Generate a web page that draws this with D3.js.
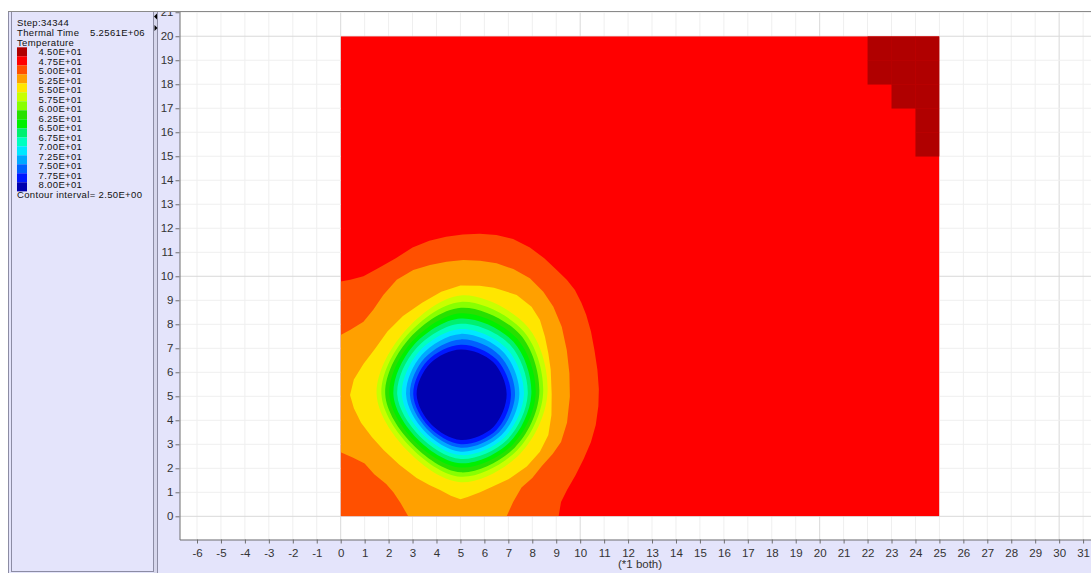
<!DOCTYPE html>
<html><head><meta charset="utf-8">
<script src="https://cdn.jsdelivr.net/npm/d3@7"></script>
<style>
body{margin:0;background:#fff;}
svg{display:block;font-family:"Liberation Sans",Arial,sans-serif;}
</style>
</head><body>
<svg id="c" width="1091" height="573"></svg>
<script>
// ---------- data ----------
const stepText = "Step:34344";
const timeLabel = "Thermal Time";
const timeValue = "5.2561E+06";
const varName = "Temperature";
const contourLevels = [45, 47.5, 50, 52.5, 55, 57.5, 60, 62.5, 65, 67.5, 70, 72.5, 75, 77.5, 80];
const levelLabels = ["4.50E+01","4.75E+01","5.00E+01","5.25E+01","5.50E+01","5.75E+01","6.00E+01","6.25E+01","6.50E+01","6.75E+01","7.00E+01","7.25E+01","7.50E+01","7.75E+01","8.00E+01"];
const bandColors = ["#b00000","#ff0000","#ff5000","#ffa000","#ffe600","#c8ff00","#88ff00","#28e000","#00f000","#00f070","#00ffc0","#00e8ff","#00a8ff","#0060ff","#0018ff","#0000b0"];
const intervalText = "Contour interval=  2.50E+00";
const axisNote = "(*1 both)";

const xTickValues = [-6,-5,-4,-3,-2,-1,0,1,2,3,4,5,6,7,8,9,10,11,12,13,14,15,16,17,18,19,20,21,22,23,24,25,26,27,28,29,30,31];
const yTickValues = [0,1,2,3,4,5,6,7,8,9,10,11,12,13,14,15,16,17,18,19,20,21];
const xDomain = [-6.71, 31.33];
const yDomain = [-0.975, 21.01];
const fieldExtent = [[0, 0], [25, 20]];

// region with T >= 47.5 (orange-red and above)
const band475 = [[0,9.78],[0.4,9.85],[0.95,10.0],[1.6,10.35],[2.3,10.75],[3.0,11.2],[3.7,11.48],[4.4,11.65],[5.1,11.74],[5.8,11.77],[6.5,11.72],[7.2,11.55],[7.9,11.2],[8.5,10.75],[9.02,10.26],[9.44,9.85],[9.78,9.43],[10.05,8.9],[10.25,8.4],[10.45,7.7],[10.6,6.9],[10.72,6.1],[10.78,5.3],[10.76,4.6],[10.65,3.8],[10.45,3.1],[10.15,2.4],[9.8,1.7],[9.45,1.1],[9.2,0.6],[9.1,0],[0,0]];
// region with T >= 50
const band50 = [[0,7.55],[0.39,7.76],[0.95,8.11],[1.36,8.6],[1.78,9.22],[2.34,9.85],[3.03,10.26],[3.73,10.47],[4.42,10.61],[5.12,10.68],[5.82,10.65],[6.51,10.54],[7.21,10.3],[7.9,9.92],[8.46,9.36],[8.88,8.73],[9.23,7.9],[9.44,6.93],[9.55,5.96],[9.57,4.99],[9.45,3.9],[9.2,3.1],[8.85,2.6],[8.4,2.1],[8.0,1.6],[7.55,1.2],[7.2,0.6],[6.93,0],[2.82,0],[2.5,0.55],[2.2,1.0],[1.9,1.35],[1.4,1.75],[1.0,2.2],[0.5,2.45],[0,2.67]];
// region with T >= 52.5
const band525 = [[5.0,9.62],[5.8,9.6],[6.4,9.52],[7.35,9.22],[7.97,8.73],[8.32,8.18],[8.53,7.48],[8.67,6.79],[8.77,6.1],[8.81,5.08],[8.8,4.22],[8.67,3.39],[8.32,2.69],[7.77,2.07],[7.07,1.58],[6.37,1.25],[5.82,1.0],[5.3,0.8],[5.0,0.71],[4.6,0.86],[4.15,1.1],[3.7,1.3],[3.17,1.6],[2.45,2.15],[1.8,2.75],[1.3,3.3],[0.85,3.9],[0.55,4.5],[0.39,5.05],[0.55,5.7],[0.95,6.35],[1.45,7.0],[1.95,7.7],[2.6,8.35],[3.4,8.9],[4.2,9.35]];

// inner closed isotherms: radius (grid units) from the hot spot centre, at E, NE, N, NW, W, SW, S, SE
const ringCenter = [5.02, 5.08];
const ringAngles = [0, 45, 90, 135, 180, 225, 270, 315];
const ringLevels = [55, 57.5, 60, 62.5, 65, 67.5, 70, 72.5, 75, 77.5, 80];
const ringRadii = [
  [3.61, 3.96, 4.12, 3.50, 3.52, 3.24, 3.66, 3.50],
  [3.43, 3.71, 3.85, 3.32, 3.32, 3.04, 3.43, 3.31],
  [3.27, 3.51, 3.61, 3.16, 3.16, 2.90, 3.25, 3.16],
  [3.12, 3.30, 3.38, 2.99, 2.99, 2.75, 3.05, 3.01],
  [2.94, 3.10, 3.16, 2.84, 2.82, 2.60, 2.87, 2.85],
  [2.79, 2.91, 2.94, 2.67, 2.66, 2.45, 2.69, 2.70],
  [2.63, 2.70, 2.72, 2.49, 2.47, 2.30, 2.53, 2.55],
  [2.44, 2.50, 2.52, 2.32, 2.29, 2.16, 2.39, 2.40],
  [2.26, 2.29, 2.29, 2.14, 2.13, 2.02, 2.22, 2.24],
  [2.09, 2.08, 2.07, 1.98, 1.99, 1.90, 2.08, 2.10],
  [1.91, 1.90, 1.87, 1.82, 1.85, 1.76, 1.90, 1.92]
];
// cells below 45 (lower-left corner of each unit cell)
const coldCells = [[22,19],[23,19],[24,19],[22,18],[23,18],[24,18],[23,17],[24,17],[24,16],[24,15]];

// ---------- drawing ----------
const W = 1091, H = 573;
const lav = "#e4e4fb", frame = "#8c8ca4";
const svg = d3.select("#c");
const defs = svg.append("defs");

const x = d3.scaleLinear().domain(xDomain).range([180, 1091]);
const y = d3.scaleLinear().domain(yDomain).range([539.7, 12]);

// background panels
svg.append("rect").attr("x", 8).attr("y", 11.5).attr("width", W - 8).attr("height", H - 11.5).attr("fill", lav);
svg.append("rect").attr("x", 180).attr("y", 12).attr("width", W - 180).attr("height", 527.7).attr("fill", "#fff");
svg.append("rect").attr("x", 153.5).attr("y", 11.5).attr("width", 4).attr("height", H - 11.5).attr("fill", "#d6d6ec");
svg.append("line").attr("x1", 8.5).attr("x2", 8.5).attr("y1", 11.5).attr("y2", H).attr("stroke", frame);
svg.append("rect").attr("x", 11.5).attr("y", 11.5).attr("width", 142).attr("height", 560).attr("fill", "none").attr("stroke", frame);
svg.append("line").attr("x1", 157.5).attr("x2", 157.5).attr("y1", 11.5).attr("y2", H).attr("stroke", frame);
svg.append("line").attr("x1", 8).attr("x2", W).attr("y1", 11.5).attr("y2", 11.5).attr("stroke", "#8a8a8a");
// small arrows
svg.append("path").attr("d", "M157,13.5 L154,16.5 L157,19.5 Z").attr("fill", "#000");
svg.append("path").attr("d", "M154.5,25 L157.5,28 L154.5,31 Z").attr("fill", "#000");

// grid
const plotClip = defs.append("clipPath").attr("id", "plotClip");
plotClip.append("rect").attr("x", 180).attr("y", 12).attr("width", W - 180).attr("height", 527.7);
const grid = svg.append("g").attr("clip-path", "url(#plotClip)");
xTickValues.forEach(v => {
  grid.append("line").attr("x1", x(v)).attr("x2", x(v)).attr("y1", 12).attr("y2", 539.7)
    .attr("stroke", v % 10 === 0 ? "#d9d9d9" : "#efefef").attr("stroke-width", 1);
});
yTickValues.forEach(v => {
  grid.append("line").attr("x1", 180).attr("x2", W).attr("y1", y(v)).attr("y2", y(v))
    .attr("stroke", v % 10 === 0 ? "#d9d9d9" : "#efefef").attr("stroke-width", 1);
});

// field
const fClip = defs.append("clipPath").attr("id", "fieldClip");
fClip.append("rect")
  .attr("x", x(fieldExtent[0][0])).attr("y", y(fieldExtent[1][1]))
  .attr("width", x(fieldExtent[1][0]) - x(fieldExtent[0][0]))
  .attr("height", y(fieldExtent[0][1]) - y(fieldExtent[1][1]));
const field = svg.append("g").attr("clip-path", "url(#fieldClip)");

field.append("rect")
  .attr("x", x(fieldExtent[0][0])).attr("y", y(fieldExtent[1][1]))
  .attr("width", x(fieldExtent[1][0]) - x(fieldExtent[0][0]))
  .attr("height", y(fieldExtent[0][1]) - y(fieldExtent[1][1]))
  .attr("fill", bandColors[1]);

const polyLine = d3.line().x(d => x(d[0])).y(d => y(d[1])).curve(d3.curveLinearClosed);
[[band475, 2], [band50, 3], [band525, 4]].forEach(([pts, ci]) => {
  field.append("path").attr("d", polyLine(pts)).attr("fill", bandColors[ci]);
});

const ringLine = d3.line().x(d => x(d[0])).y(d => y(d[1])).curve(d3.curveCatmullRomClosed.alpha(0.5));
ringLevels.forEach((lv, i) => {
  const pts = ringAngles.map((a, k) => {
    const t = a * Math.PI / 180;
    return [ringCenter[0] + ringRadii[i][k] * Math.cos(t), ringCenter[1] + ringRadii[i][k] * Math.sin(t)];
  });
  field.append("path").attr("d", ringLine(pts)).attr("fill", bandColors[contourLevels.indexOf(lv) + 1]);
});

field.selectAll("rect.cold").data(coldCells).join("rect").attr("class", "cold")
  .attr("x", d => x(d[0])).attr("y", d => y(d[1] + 1))
  .attr("width", d => x(d[0] + 1) - x(d[0]) + 0.3)
  .attr("height", d => y(d[1]) - y(d[1] + 1) + 0.3)
  .attr("fill", bandColors[0]);

// axes
const axCol = "#6e6e6e", txtCol = "#333";
const fmt = d => String(d);
const yClip = defs.append("clipPath").attr("id", "yClip");
yClip.append("rect").attr("x", 150).attr("y", 12).attr("width", 40).attr("height", 540);
const gyOuter = svg.append("g").attr("clip-path", "url(#yClip)");
const gy = gyOuter.append("g").attr("transform", "translate(179.5,0)")
  .call(d3.axisLeft(y).tickValues(yTickValues).tickSize(4).tickPadding(2).tickFormat(fmt));
const gx = svg.append("g").attr("transform", "translate(0,539.5)")
  .call(d3.axisBottom(x).tickValues(xTickValues).tickSize(4).tickPadding(5).tickFormat(fmt));
[gx, gy].forEach(g => {
  g.select(".domain").attr("stroke", axCol);
  g.selectAll(".tick line").attr("stroke", axCol);
  g.selectAll(".tick text").attr("fill", txtCol).attr("font-size", "11.5px")
    .attr("font-family", "'Liberation Sans', Arial, sans-serif");
});
gx.select(".domain").attr("d", `M180,0.5H${W}`);
gy.select(".domain").attr("d", "M0.5,12V540");
svg.append("text").attr("x", x(12.5)).attr("y", 568).attr("text-anchor", "middle")
  .attr("font-size", "11.5px").attr("fill", txtCol).text(axisNote);

// legend panel
const lg = svg.append("g").attr("font-size", "9.5px").attr("fill", "#111").style("letter-spacing", "0.35px");
lg.append("text").attr("x", 17).attr("y", 26).text(stepText);
lg.append("text").attr("x", 17).attr("y", 36).text(timeLabel);
lg.append("text").attr("x", 90).attr("y", 36).text(timeValue);
lg.append("text").attr("x", 17).attr("y", 45.5).text(varName);
bandColors.forEach((c, i) => {
  lg.append("rect").attr("x", 17).attr("y", 47.3 + i * 9).attr("width", 10).attr("height", 9.05).attr("fill", c);
});
levelLabels.forEach((t, i) => {
  lg.append("text").attr("x", 38.5).attr("y", 55 + i * 9.52).text(t);
});
lg.append("text").attr("x", 17).attr("y", 198).text(intervalText);
</script>
</body></html>
